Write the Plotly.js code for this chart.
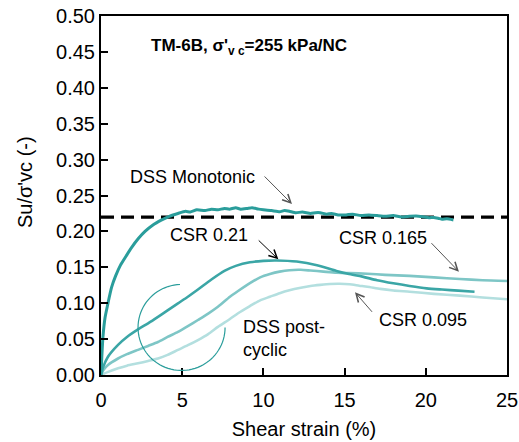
<!DOCTYPE html>
<html>
<head>
<meta charset="utf-8">
<script src="https://cdn.plot.ly/plotly-3.0.1.min.js"></script>
<style>html,body{margin:0;padding:0;background:#fff;}#chart{width:519px;height:442px;}</style>
</head>
<body>
<div id="chart"></div>
<script>
// ---- data ----
const monoStrain = [0, 0.05, 0.12, 0.25, 0.43, 0.65, 0.9, 1.2, 1.5, 1.9, 2.3, 2.71, 3.2, 3.74, 4.2, 4.74, 5.2, 5.5, 5.9, 6.4, 6.8, 7.2, 7.6, 7.9, 8.3, 8.6, 9.0, 9.3, 9.7, 10.0, 10.5, 11.0, 11.3, 11.6, 12.0, 12.4, 12.9, 13.2, 13.5, 13.9, 14.2, 14.6, 15.1, 15.5, 16.0, 16.5, 17.0, 17.5, 18.0, 18.5, 19.0, 19.4, 19.8, 20.2, 20.5, 20.8, 21.0, 21.3, 21.7];
const monoSu = [0, 0.025, 0.053, 0.08, 0.10, 0.122, 0.138, 0.153, 0.164, 0.178, 0.190, 0.200, 0.209, 0.216, 0.221, 0.225, 0.228, 0.227, 0.230, 0.229, 0.231, 0.230, 0.232, 0.231, 0.233, 0.231, 0.232, 0.233, 0.231, 0.230, 0.229, 0.2275, 0.229, 0.228, 0.226, 0.227, 0.225, 0.226, 0.226, 0.224, 0.225, 0.223, 0.223, 0.224, 0.222, 0.223, 0.222, 0.221, 0.222, 0.220, 0.221, 0.2215, 0.2205, 0.219, 0.2195, 0.218, 0.217, 0.2175, 0.216];

const csr021Strain = [0, 0.15, 0.43, 1.05, 1.6, 2.28, 2.9, 3.51, 4.1, 4.74, 5.35, 5.97, 6.8, 7.6, 8.3, 9.17, 10.0, 10.8, 12.05, 13.3, 14.5, 15.2, 16.1, 17.0, 18.0, 19.0, 20.05, 21.0, 22.0, 23.0];
const csr021Su = [0, 0.012, 0.0255, 0.042, 0.053, 0.0635, 0.072, 0.081, 0.090, 0.0998, 0.109, 0.119, 0.133, 0.145, 0.152, 0.157, 0.159, 0.1595, 0.158, 0.153, 0.145, 0.141, 0.137, 0.132, 0.1277, 0.124, 0.1207, 0.119, 0.1175, 0.116];

const csr0165Strain = [0, 0.15, 0.43, 1.05, 1.6, 2.28, 2.9, 3.51, 4.1, 4.74, 5.35, 5.97, 6.6, 7.2, 7.94, 8.44, 9.17, 9.8, 10.4, 11.0, 11.6, 12.3, 12.9, 13.7, 14.5, 15.3, 16.4, 17.5, 19.0, 20.5, 22.1, 23.5, 25.0];
const csr0165Su = [0, 0.007, 0.014, 0.023, 0.029, 0.035, 0.0405, 0.046, 0.053, 0.060, 0.068, 0.0766, 0.0855, 0.095, 0.109, 0.117, 0.128, 0.136, 0.1407, 0.144, 0.146, 0.1465, 0.1455, 0.144, 0.1425, 0.142, 0.141, 0.1395, 0.138, 0.136, 0.1337, 0.132, 0.131];

const csr0095Strain = [0, 0.4, 1.05, 1.6, 2.28, 2.9, 3.51, 4.1, 4.74, 5.35, 5.97, 6.6, 7.2, 7.94, 8.44, 9.17, 9.8, 10.4, 11.0, 11.6, 12.3, 12.9, 13.5, 14.1, 14.7, 15.3, 15.9, 16.4, 17.2, 18.0, 19.0, 20.5, 22.1, 23.5, 25.0];
const csr0095Su = [0, 0.004, 0.0093, 0.013, 0.0163, 0.0195, 0.023, 0.028, 0.035, 0.0415, 0.0487, 0.057, 0.067, 0.078, 0.086, 0.096, 0.104, 0.109, 0.114, 0.118, 0.1215, 0.124, 0.1255, 0.1267, 0.127, 0.1263, 0.1244, 0.123, 0.120, 0.1178, 0.116, 0.113, 0.1105, 0.108, 0.1054];

const refLevel = 0.22;
const xTicks = [0, 5, 10, 15, 20, 25];
const yTicks = [0, 0.05, 0.10, 0.15, 0.20, 0.25, 0.30, 0.35, 0.40, 0.45, 0.50];

// ---- traces ----
const traces = [
  {x: [0, 25], y: [refLevel, refLevel], mode: 'lines', line: {color: '#000', width: 3.2, dash: '13px,7px'}, hoverinfo: 'skip'},
  {x: csr0095Strain, y: csr0095Su, mode: 'lines', line: {color: '#B3DFDF', width: 2.6, shape: 'spline', smoothing: 0.6}},
  {x: csr0165Strain, y: csr0165Su, mode: 'lines', line: {color: '#7EC6C6', width: 2.6, shape: 'spline', smoothing: 0.6}},
  {x: csr021Strain, y: csr021Su, mode: 'lines', line: {color: '#3BA6A6', width: 2.6, shape: 'spline', smoothing: 0.8}},
  {x: monoStrain, y: monoSu, mode: 'lines', line: {color: '#2A9D9B', width: 3, shape: 'spline', smoothing: 0.4}}
];

// decorative open circle (annotation)
const cx = 4.96, cy = 0.0662, rx = 2.68, ry = 0.0599;
let path = '';
for (let a = 92; a <= 360; a += 4) {
  const t = a * Math.PI / 180;
  const px = cx + rx * Math.cos(t), py = cy + ry * Math.sin(t);
  path += (a === 92 ? 'M' : 'L') + px.toFixed(4) + ',' + py.toFixed(5) + ' ';
}

const font = 'Arial, "Liberation Sans", sans-serif';
const annFont = {family: font, size: 18, color: '#000'};
function arrow(x0, y0, x1, y1, color) {
  return {x: x1, y: y1, ax: x0, ay: y0, xref: 'x', yref: 'y', axref: 'x', ayref: 'y',
    text: '', showarrow: true, arrowhead: 5, arrowsize: 1.6, arrowwidth: 1, arrowcolor: color, standoff: 0};
}

const layout = {
  width: 519, height: 442,
  margin: {l: 101, r: 12, t: 16, b: 67},
  paper_bgcolor: '#fff', plot_bgcolor: '#fff',
  showlegend: false,
  font: {family: font, size: 20, color: '#000'},
  xaxis: {
    range: [0, 25], tickvals: xTicks, ticktext: xTicks.map(String),
    showgrid: false, zeroline: false, showline: true, linecolor: '#000', linewidth: 2, mirror: true,
    ticks: 'inside', ticklen: 7, tickwidth: 2, tickcolor: '#000', ticklabelstandoff: 6,
    tickfont: {family: font, size: 20, color: '#000'},
    title: {text: 'Shear strain (%)', font: {family: font, size: 20, color: '#000'}, standoff: 12}
  },
  yaxis: {
    range: [0, 0.5], tickvals: yTicks, ticktext: yTicks.map(v => v.toFixed(2)),
    showgrid: false, zeroline: false, showline: true, linecolor: '#000', linewidth: 2, mirror: true,
    ticks: 'inside', ticklen: 7, tickwidth: 2, tickcolor: '#000',
    tickfont: {family: font, size: 20, color: '#000'}
  },
  shapes: [
    {type: 'path', xref: 'x', yref: 'y', path: path, line: {color: '#2A9D9B', width: 1.2}}
  ],
  annotations: [
    {xref: 'paper', yref: 'paper', x: -0.187, y: 0.5376, text: "Su/σ'vc (-)", textangle: -90, showarrow: false,
      xanchor: 'center', yanchor: 'middle', font: {family: font, size: 20, color: '#000'}},
    {xref: 'x', yref: 'y', x: 2.94, y: 0.457, xanchor: 'left', yanchor: 'middle', align: 'left', showarrow: false,
      text: "<b>TM-6B, σ'<sub>v c</sub>=255 kPa/NC</b>", font: {family: font, size: 17, color: '#000'}},
    {xref: 'x', yref: 'y', x: 5.66, y: 0.2758, text: 'DSS Monotonic', showarrow: false, font: annFont},
    {xref: 'x', yref: 'y', x: 6.62, y: 0.195, text: 'CSR 0.21', showarrow: false, font: annFont},
    {xref: 'x', yref: 'y', x: 17.36, y: 0.1908, text: 'CSR 0.165', showarrow: false, font: annFont},
    {xref: 'x', yref: 'y', x: 19.83, y: 0.0766, text: 'CSR 0.095', showarrow: false, font: annFont},
    {xref: 'x', yref: 'y', x: 8.62, y: 0.0508, text: 'DSS post-<br>cyclic', showarrow: false, xanchor: 'left', align: 'left', font: annFont},
    arrow(9.98, 0.2786, 11.76, 0.2382, '#555'),
    arrow(9.62, 0.1894, 10.92, 0.1611, '#000'),
    arrow(20.26, 0.1857, 22.04, 0.1439, '#555'),
    arrow(16.77, 0.0859, 15.64, 0.1152, '#555')
  ]
};

Plotly.newPlot('chart', traces, layout, {displayModeBar: false, staticPlot: true});
</script>
</body>
</html>
